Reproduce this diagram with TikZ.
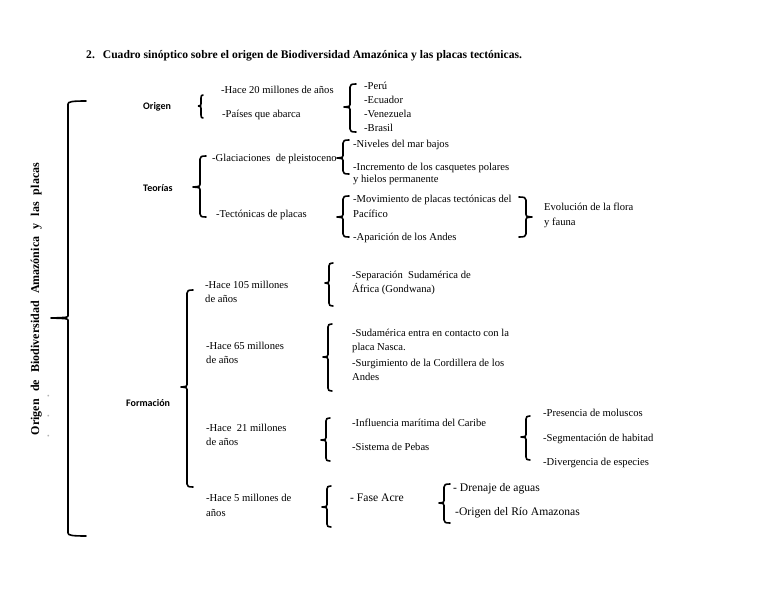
\documentclass[tikz,border=0pt]{standalone}
\usepackage{fontspec}
\setmainfont{Liberation Serif}
\newfontfamily\labfont{Carlito}
\newcommand\mybr[6]{%
  \draw[bracestyle] (#1+#5,#2) .. controls (#1+0.25*#5,#2) and (#1,#2+0.6) .. (#1,#2+3)
    -- (#1,#4-2.5) .. controls (#1,#4-0.6) .. (#1-#6,#4)
    .. controls (#1,#4+0.6) .. (#1,#4+2.5)
    -- (#1,#3-3) .. controls (#1,#3-0.6) and (#1+0.25*#5,#3) .. (#1+#5,#3);}
\begin{document}
\begin{tikzpicture}[x=1pt,y=-1pt,
  bracestyle/.style={line width=1.6pt,line cap=round,line join=round},
  txt/.style={anchor=base west,inner sep=0pt,font=\fontsize{10.6}{12}\selectfont},
  big/.style={anchor=base west,inner sep=0pt,font=\fontsize{11.6}{13}\selectfont},
  lab/.style={anchor=base west,inner sep=0pt,font=\labfont\bfseries\fontsize{10}{12}\selectfont}]
\useasboundingbox (0,0) rectangle (768,594);
% title
\node[anchor=base west,inner sep=0pt,font=\bfseries\fontsize{11.6}{13}\selectfont] (title) at (86,59)
  {2.\hspace{8pt}Cuadro sinóptico sobre el origen de Biodiversidad Amazónica y las placas tectónicas.};
% vertical title
\node[anchor=base,inner sep=0pt,rotate=90,font=\bfseries\fontsize{12}{14}\selectfont] (vt) at (39,299)
  {\makebox[272pt][s]{Origen de Biodiversidad Amazónica y las placas}};
\node[anchor=base,inner sep=0pt,rotate=90,text=black!30,font=\bfseries\fontsize{11}{13}\selectfont] (vdots) at (49,416)
  {.\hspace{17pt}.\hspace{17pt}.};
% big brace
\mybr{68}{101}{536}{318}{18}{17}
% labels
\node[lab] (origen) at (143,109) {Origen};
\node[lab] (teorias) at (143,191) {Teorías};
\node[lab] (formacion) at (126,406) {Formación};
% Origen
\mybr{201}{95}{118}{106}{2}{2.5}
\node[txt] (o1) at (221,93) {-Hace 20 millones de años};
\node[txt] (o2) at (222,117) {-Países que abarca};
\mybr{350}{84}{132}{107}{6}{6}
\node[txt] (p1) at (364,89) {-Perú};
\node[txt] (p2) at (364,103) {-Ecuador};
\node[txt] (p3) at (364,117) {-Venezuela};
\node[txt] (p4) at (364,131) {-Brasil};
% Teorias
\mybr{200}{156}{217}{187}{6}{7}
\node[txt] (t1) at (212,161) {-Glaciaciones\ \ de pleistoceno};
\mybr{343}{140}{174}{158}{6}{6}
\node[txt] (g1) at (353,147) {-Niveles del mar bajos};
\node[txt] (g2) at (353,170) {-Incremento de los casquetes polares};
\node[txt] (g3) at (353,182) {y hielos permanente};
\node[txt] (t2) at (216,217) {-Tectónicas de placas};
\mybr{343}{196}{237}{217}{6}{6}
\node[txt] (m1) at (353,202) {-Movimiento de placas tectónicas del};
\node[txt] (m2) at (353,217) {Pacífico};
\node[txt] (m3) at (353,240) {-Aparición de los Andes};
\mybr{526}{197}{237}{217}{-7}{-6}
\node[txt] (e1) at (544,210) {Evolución de la flora};
\node[txt] (e2) at (544,225) {y fauna};
% Formacion
\mybr{187}{290}{487}{387}{6}{6}
\node[txt] (f1a) at (205,288) {-Hace 105 millones};
\node[txt] (f1b) at (205,302) {de años};
\mybr{329}{263}{306}{283}{4}{4}
\node[txt] (s1) at (352,278) {-Separación\ \ Sudamérica de};
\node[txt] (s2) at (352,292) {África (Gondwana)};
\node[txt] (f2a) at (206,349) {-Hace 65 millones};
\node[txt] (f2b) at (206,363) {de años};
\mybr{328}{324}{391}{357}{4}{5}
\node[txt] (s3) at (352,336) {-Sudamérica entra en contacto con la};
\node[txt] (s4) at (352,350) {placa Nasca.};
\node[txt] (s5) at (352,366) {-Surgimiento de la Cordillera de los};
\node[txt] (s6) at (352,380) {Andes};
\node[txt] (f3a) at (206,431) {-Hace\ \ 21 millones};
\node[txt] (f3b) at (206,445) {de años};
\mybr{326}{418}{461}{440}{4}{5}
\node[txt] (s7) at (352,426) {-Influencia marítima del Caribe};
\node[txt] (s8) at (352,450) {-Sistema de Pebas};
\mybr{526}{416}{460}{437}{4}{5}
\node[txt] (d1) at (543,416) {-Presencia de moluscos};
\node[txt] (d2) at (543,441) {-Segmentación de habitad};
\node[txt] (d3) at (543,465) {-Divergencia de especies};
\node[txt] (f4a) at (206,501) {-Hace 5 millones de};
\node[txt] (f4b) at (206,516) {años};
\mybr{327}{486}{527}{507}{4}{5}
\node[big] (fa) at (350,501) {- Fase Acre};
\mybr{444}{484}{523}{503}{6}{5}
\node[big] (a1) at (453,491) {- Drenaje de aguas};
\node[big] (a2) at (455,515) {-Origen del Río Amazonas};
\end{tikzpicture}
\end{document}
